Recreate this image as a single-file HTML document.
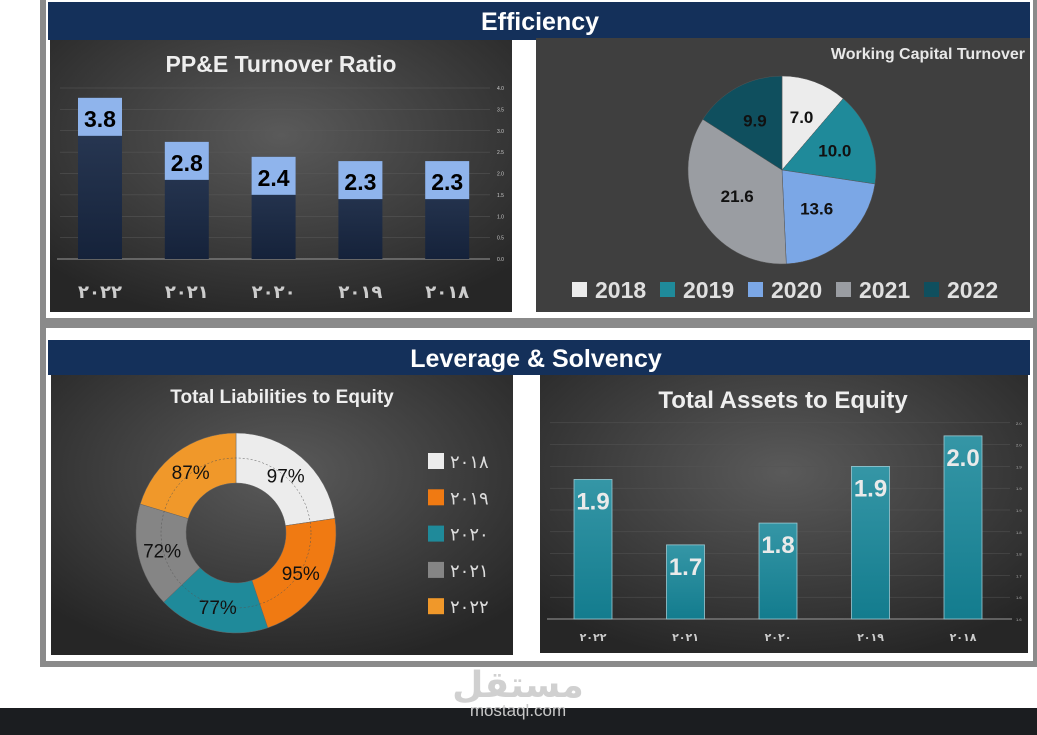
<!DOCTYPE html>
<html><head><meta charset="utf-8">
<style>
html,body{margin:0;padding:0;width:1037px;height:735px;overflow:hidden;background:#fff;font-family:"Liberation Sans","DejaVu Sans",sans-serif;}
svg text{font-family:"Liberation Sans","DejaVu Sans",sans-serif;}
.ar{font-family:"DejaVu Sans",sans-serif;}
</style></head>
<body>
<svg id="root" width="1037" height="735" viewBox="0 0 1037 735">
<defs>
<radialGradient id="bg1" cx="0.5" cy="0.35" r="0.7"><stop offset="0" stop-color="#5a5a5a"/><stop offset="1" stop-color="#262626"/></radialGradient>
<linearGradient id="navy" x1="0" y1="0" x2="0" y2="1"><stop offset="0" stop-color="#2c3c58"/><stop offset="1" stop-color="#15223a"/></linearGradient>
<linearGradient id="teal" x1="0" y1="0" x2="0" y2="1"><stop offset="0" stop-color="#3596a6"/><stop offset="1" stop-color="#137c8e"/></linearGradient>
</defs>
<rect x="40" y="0" width="997" height="667" fill="#8a8a8a"/>
<rect x="46" y="0" width="987" height="318" fill="#fff"/>
<rect x="46" y="328" width="987" height="333" fill="#fff"/>
<rect x="48" y="2" width="982" height="38" fill="#14305a"/>
<text x="540" y="30" text-anchor="middle" font-size="25" font-weight="bold" fill="#fff">Efficiency</text>
<rect x="48" y="340" width="982" height="35" fill="#14305a"/>
<text x="536" y="367" text-anchor="middle" font-size="25" font-weight="bold" fill="#fff">Leverage &amp; Solvency</text>

<!-- panels -->
<rect x="50" y="40" width="462" height="272" fill="url(#bg1)"/>
<rect x="536" y="38" width="494" height="274" fill="#3f3f3f"/>
<rect x="51" y="375" width="462" height="280" fill="url(#bg1)"/>
<rect x="540" y="375" width="488" height="278" fill="url(#bg1)"/>

<text x="281" y="72" text-anchor="middle" font-size="23" font-weight="bold" fill="#eee">PP&amp;E Turnover Ratio</text>
<text x="1025" y="59" text-anchor="end" font-size="16" font-weight="bold" fill="#e8e8e8">Working Capital Turnover</text>
<text x="282" y="403" text-anchor="middle" font-size="19" font-weight="bold" fill="#eee">Total Liabilities to Equity</text>
<text x="783" y="408" text-anchor="middle" font-size="24" font-weight="bold" fill="#eee">Total Assets to Equity</text>

<g id="ppe"></g><g id="wc"></g><g id="tle"></g><g id="tae"></g>

<rect x="0" y="708" width="1037" height="27" fill="#1b1d20"/>
<text x="518" y="697" text-anchor="middle" font-size="36" font-weight="bold" fill="#d0d0d0" class="ar">مستقل</text>
<text x="518" y="716" text-anchor="middle" font-size="17" fill="#c8c8c8">mostaql.com</text>
</svg>
<script>
const NS='http://www.w3.org/2000/svg';
const ppeCats=['٢٠٢٢','٢٠٢١','٢٠٢٠','٢٠١٩','٢٠١٨'];
const ppeVals=[3.77,2.74,2.39,2.29,2.29];
const ppeLabels=['3.8','2.8','2.4','2.3','2.3'];
const ppeTicks=[0,0.5,1,1.5,2,2.5,3,3.5,4];
const wcCats=['2018','2019','2020','2021','2022'];
const wcVals=[7.0,10.0,13.6,21.6,9.9];
const tleCats=['٢٠١٨','٢٠١٩','٢٠٢٠','٢٠٢١','٢٠٢٢'];
const tleVals=[97,95,77,72,87];
const taeCats=['٢٠٢٢','٢٠٢١','٢٠٢٠','٢٠١٩','٢٠١٨'];
const taeVals=[1.92,1.77,1.82,1.95,2.02];
const taeLabels=['1.9','1.7','1.8','1.9','2.0'];
const taeTicks=[1.6,1.65,1.7,1.75,1.8,1.85,1.9,1.95,2.0,2.05];

function mk(tag,attrs,parent,txt){const e=document.createElementNS(NS,tag);for(const k in attrs)e.setAttribute(k,attrs[k]);if(txt!==undefined)e.textContent=txt;parent.appendChild(e);return e;}

// PP&E bars
(function(){
const g=document.getElementById('ppe');
const y=v=>259-v*42.75; const x=i=>100+i*86.8;
ppeTicks.forEach(t=>{
 mk('line',{x1:60,x2:490,y1:y(t),y2:y(t),stroke:'#5a5a5a','stroke-width':0.5},g);
 const tl=mk('text',{x:497,y:y(t)+2,'font-size':5,fill:'#ccc'},g,t.toFixed(1));
 
 
});
mk('line',{x1:57,x2:490,y1:259,y2:259,stroke:'#999','stroke-width':1},g);
ppeVals.forEach((v,i)=>{
 const b=mk('rect',{x:x(i)-22,y:y(v),width:44,height:259-y(v),fill:'url(#navy)'},g);
 
 
 const bx=mk('rect',{x:x(i)-22,y:y(v),width:44,height:38,fill:'#8fb4ec'},g);
 
 
 const lt=mk('text',{x:x(i),y:y(v)+29,'text-anchor':'middle','font-size':23,'font-weight':'bold',fill:'#000'},g,ppeLabels[i]);
 
 
 const ct=mk('text',{x:x(i),y:298,'text-anchor':'middle','font-size':18,'font-weight':'bold',fill:'#ccc',class:'ar'},g,ppeCats[i]);
 
 
});
})();

// Pie
(function(){
const g=document.getElementById('wc');
const cx=782,cy=170,r=94; const cols=['#ececec','#1f8a9a','#7ba7e6','#9a9da2','#0f4f5e'];
const tot=wcVals.reduce((a,b)=>a+b,0); let a0=0;
wcVals.forEach((v,i)=>{
 const a1=a0+v/tot*2*Math.PI;
 const p=(a,rr)=>[cx+rr*Math.sin(a),cy-rr*Math.cos(a)];
 const [x0,y0]=p(a0,r),[x1,y1]=p(a1,r);
 const s=mk('path',{d:`M${cx},${cy}L${x0},${y0}A${r},${r} 0 ${a1-a0>Math.PI?1:0} 1 ${x1},${y1}Z`,fill:cols[i],stroke:'#555','stroke-width':0.5},g);
 
 
 const m=(a0+a1)/2; const lr=v<12?r*0.6:r*0.55; const [lx,ly]=p(m,lr);
 const t=mk('text',{x:lx,y:ly+6,'text-anchor':'middle','font-size':17,'font-weight':'bold',fill:'#111'},g,v.toFixed(1));
 
 
 a0=a1;
});
let lx=572;
wcCats.forEach((c,i)=>{
 const sq=mk('rect',{x:lx,y:282,width:15,height:15,fill:cols[i]},g);
 
 
 const t=mk('text',{x:lx+23,y:298,'font-size':23,'font-weight':'bold',fill:'#e0e0e0'},g,c);
 
 
 lx+=88;
});
})();

// Donut
(function(){
const g=document.getElementById('tle');
const cx=236,cy=533,R=100,r0=50; const cols=['#ececec','#f07a12','#1f8a9a','#858585','#f0982a'];
const tot=tleVals.reduce((a,b)=>a+b,0); let a0=0;
const p=(a,rr)=>[cx+rr*Math.sin(a),cy-rr*Math.cos(a)];
tleVals.forEach((v,i)=>{
 const a1=a0+v/tot*2*Math.PI; const lg=a1-a0>Math.PI?1:0;
 const [x0,y0]=p(a0,R),[x1,y1]=p(a1,R),[x2,y2]=p(a1,r0),[x3,y3]=p(a0,r0);
 const s=mk('path',{d:`M${x0},${y0}A${R},${R} 0 ${lg} 1 ${x1},${y1}L${x2},${y2}A${r0},${r0} 0 ${lg} 0 ${x3},${y3}Z`,fill:cols[i],stroke:'#666','stroke-width':0.5},g);
 
 
 const [lx,ly]=p((a0+a1)/2,76);
 const t=mk('text',{x:lx,y:ly+7,'text-anchor':'middle','font-size':19,fill:'#111'},g,v+'%');
 
 
 a0=a1;
});
mk('circle',{cx:cx,cy:cy,r:75,fill:'none',stroke:'#555','stroke-width':0.5,'stroke-dasharray':'2,2'},g);
tleCats.forEach((c,i)=>{
 const y=453+i*36.3;
 const sq=mk('rect',{x:428,y:y,width:16,height:16,fill:cols[i]},g);
 
 
 const t=mk('text',{x:450,y:y+15,'font-size':18,fill:'#ddd',class:'ar'},g,c);
 
 
});
})();

// Total assets bars
(function(){
const g=document.getElementById('tae');
const y=v=>619-(v-1.6)*436; const x=i=>593+i*92.5;
taeTicks.forEach(t=>{
 mk('line',{x1:550,x2:1010,y1:y(t),y2:y(t),stroke:'#555','stroke-width':0.5},g);
 const tl=mk('text',{x:1016,y:y(t)+2,'font-size':4,fill:'#bbb'},g,t.toFixed(1));
 
 
});
mk('line',{x1:547,x2:1012,y1:619,y2:619,stroke:'#999','stroke-width':1},g);
taeVals.forEach((v,i)=>{
 const b=mk('rect',{x:x(i)-19,y:y(v),width:38,height:619-y(v),fill:'url(#teal)',stroke:'#9cc9d2','stroke-width':0.8},g);
 
 
 const lt=mk('text',{x:x(i),y:y(v)+30,'text-anchor':'middle','font-size':24,'font-weight':'bold',fill:'#eaeaea'},g,taeLabels[i]);
 
 
 const ct=mk('text',{x:x(i),y:641,'text-anchor':'middle','font-size':11,'font-weight':'bold',fill:'#ccc',class:'ar'},g,taeCats[i]);
 
 
});
})();
</script>
</body></html>
